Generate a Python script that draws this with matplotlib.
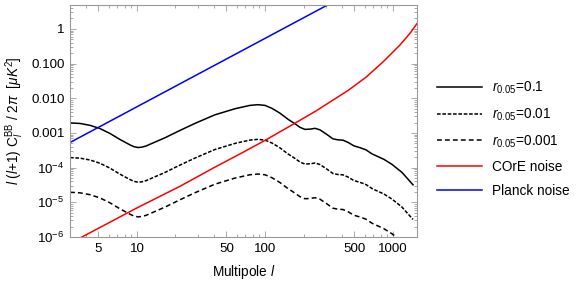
import matplotlib
matplotlib.use("Agg")
import matplotlib.pyplot as plt
from matplotlib.ticker import FixedLocator, NullFormatter, LogLocator
import numpy as np

# Fonts (Arial-like, mathtext in the same family)
plt.rcParams['font.family'] = ['Liberation Sans', 'DejaVu Sans']
plt.rcParams['mathtext.fontset'] = 'custom'
plt.rcParams['mathtext.rm'] = 'Liberation Sans'
plt.rcParams['mathtext.it'] = 'Liberation Sans:italic'
plt.rcParams['mathtext.bf'] = 'Liberation Sans:bold'

# Data
# primordial BB spectrum for r = 0.1 (the other two curves scale with r)
ell_bb = [3.0, 3.59, 4.30, 5.14, 6.15, 7.36, 8.82, 9.47, 10.2, 10.9, 11.76, 13.8,
          16.6, 20.9, 28.4, 40.6, 58.3, 76.3, 88.1, 100, 113.5, 131, 151, 172, 188,
          205, 225, 246, 269, 300, 340, 372, 407, 445, 495, 552, 615, 685, 763, 851,
          982, 1175, 1433]
bb_r01 = [1.95e-3, 1.88e-3, 1.66e-3, 1.34e-3, 9.7e-4, 6.5e-4, 4.54e-4, 4.03e-4,
          3.8e-4, 3.9e-4, 4.2e-4, 5.43e-4, 7.3e-4, 1.11e-3, 1.89e-3, 3.33e-3, 5.0e-3,
          6.24e-3, 6.54e-3, 6.24e-3, 5.12e-3, 3.72e-3, 2.50e-3, 1.83e-3, 1.45e-3,
          1.27e-3, 1.29e-3, 1.36e-3, 1.23e-3, 9.4e-4, 6.76e-4, 6.33e-4, 6.2e-4,
          5.36e-4, 4.25e-4, 3.77e-4, 3.26e-4, 2.5e-4, 2.08e-4, 1.73e-4, 1.24e-4,
          7.3e-5, 3.2e-5]
r_values = [0.1, 0.01, 0.001]
r_labels = ['0.1', '0.01', '0.001']

# noise curves
ell_core = [3, 3.72, 10, 21.7, 40, 64, 100, 171, 250, 342, 450, 623, 840, 1135, 1359, 1578]
core_noise = [6.5e-7, 1.0e-6, 6.9e-6, 2.9e-5, 1.0e-4, 2.5e-4, 6.1e-4, 1.9e-3,
              4.3e-3, 9.0e-3, 1.72e-2, 4.2e-2, 0.114, 0.346, 0.75, 1.62]
ell_planck = [3, 400]
planck_noise = [5.3e-4, 8.2]

xticks = [5, 10, 50, 100, 500, 1000]
yticks = [1e-6, 1e-5, 1e-4, 1e-3, 1e-2, 1e-1, 1]
ytick_labels = ['$10^{-6}$', '$10^{-5}$', '$10^{-4}$', '0.001', '0.010', '0.100', '1']

# Figure
fig = plt.figure(figsize=(5.81, 2.84), dpi=100)
ax = fig.add_axes([70/581, 47/284, 347/581, 232/284])

dashes = ['-', (0, (2.4, 1.1)), (0, (3.2, 2))]
for r, lab, ls in zip(r_values, r_labels, dashes):
    ax.plot(ell_bb, np.array(bb_r01) * r / 0.1, color='black', lw=1.1, linestyle=ls,
            label=r'$r_{0.05}$=' + lab)
ax.plot(ell_core, core_noise, color='#ff0000', lw=1.1, label='COrE noise')
ax.plot(ell_planck, planck_noise, color='#0000ff', lw=1.1, label='Planck noise')

ax.set_xscale('log')
ax.set_yscale('log')
ax.set_xlim(3, 1540)
ax.set_ylim(1e-6, 4.9)

# ticks like a Mathematica frame: inside, on all four sides, grey frame
ax.xaxis.set_major_locator(FixedLocator(xticks))
ax.set_xticklabels([str(t) for t in xticks])
ax.xaxis.set_minor_locator(LogLocator(base=10, subs=np.arange(1, 10)))
ax.xaxis.set_minor_formatter(NullFormatter())
ax.yaxis.set_major_locator(FixedLocator(yticks))
ax.set_yticklabels(ytick_labels)
ax.yaxis.set_minor_locator(LogLocator(base=10, subs=np.arange(2, 10)))
ax.yaxis.set_minor_formatter(NullFormatter())

grey = '#999999'
for s in ax.spines.values():
    s.set_color(grey)
    s.set_linewidth(0.8)
ax.tick_params(which='both', direction='in', top=True, right=True, color=grey,
               labelsize=9.6, labelcolor='black', width=0.6)
ax.tick_params(which='major', length=4, pad=4)
ax.tick_params(which='minor', length=2)

ax.set_xlabel(r'Multipole $l$', fontsize=9.8, labelpad=6)
ax.set_ylabel(r'$l$ ($l$+1) C$_l^{\rm BB}$ / 2$\pi$  [$\mu K^2$]', fontsize=9.8, labelpad=4)

ax.legend(loc='upper left', bbox_to_anchor=(437/581, 1 - 80/284), bbox_transform=fig.transFigure,
          frameon=False, fontsize=9.8, handlelength=3.3, handletextpad=0.75,
          labelspacing=0.75, borderpad=0, borderaxespad=0)

fig.savefig('out.png', dpi=100)
